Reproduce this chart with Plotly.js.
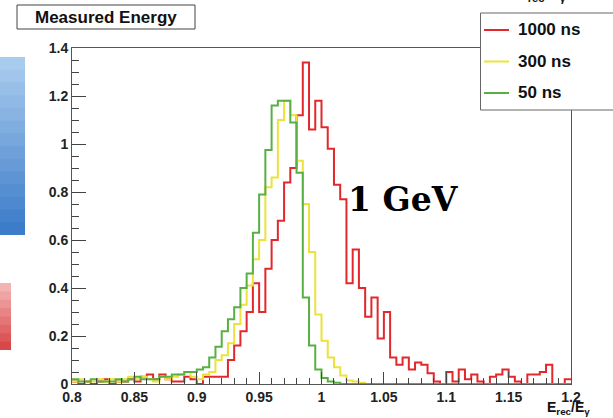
<!DOCTYPE html>
<html>
<head>
<meta charset="utf-8">
<script src="https://cdn.plot.ly/plotly-3.0.1.min.js"></script>
<style>html,body{margin:0;padding:0;background:#fff;overflow:hidden;}#chart{width:613px;height:418px;}</style>
</head>
<body>
<div id="chart"></div>
<script>
// ---- data (bin contents, 80 bins from 0.8 to 1.2, width 0.005) ----
const binStart = 0.8;
const binWidth = 0.005;
const seriesNames = ["1000 ns", "300 ns", "50 ns"];
const seriesColors = ['#e3282c', '#ece23a', '#58b043'];
const red1000 = [
  0.01,0.00,0.01,0.00,0.01,0.02,0.00,0.01,0.01,0.02,
  0.01,0.03,0.04,0.02,0.04,0.02,0.01,0.01,0.03,0.02,
  0.00,0.03,0.03,0.03,0.03,0.10,0.16,0.22,0.30,0.42,
  0.30,0.48,0.60,0.68,0.84,0.90,1.12,1.34,1.06,1.18,
  1.07,0.98,0.83,0.77,0.42,0.56,0.40,0.28,0.36,0.19,
  0.30,0.11,0.08,0.11,0.06,0.09,0.08,0.045,0.01,0.00,
  0.05,0.01,0.06,0.02,0.04,0.01,0.00,0.03,0.04,0.06,
  0.03,0.01,0.00,0.04,0.04,0.05,0.08,0.00,0.00,0.02
];
const yellow300 = [
  0.01,0.02,0.01,0.01,0.02,0.01,0.02,0.01,0.02,0.03,
  0.02,0.03,0.02,0.01,0.03,0.02,0.03,0.04,0.05,0.03,
  0.02,0.04,0.05,0.10,0.12,0.17,0.25,0.33,0.41,0.52,
  0.60,0.82,0.86,1.10,1.18,1.12,0.93,0.75,0.55,0.29,
  0.18,0.11,0.07,0.035,0.015,0.01,0.005,0,0,0,
  0,0,0,0,0,0,0,0,0,0,
  0,0,0,0,0,0,0,0,0,0,
  0,0,0,0,0,0,0,0,0,0
];
const green50 = [
  0.02,0.01,0.01,0.02,0.01,0.01,0.01,0.02,0.01,0.02,
  0.03,0.02,0.02,0.02,0.03,0.03,0.04,0.04,0.05,0.05,
  0.06,0.07,0.11,0.155,0.22,0.27,0.32,0.40,0.46,0.63,
  0.79,0.975,1.16,1.18,1.18,1.09,0.88,0.36,0.16,0.06,
  0.025,0.01,0.005,0,0,0,0,0,0,0,
  0,0,0,0,0,0,0,0,0,0,
  0,0,0,0,0,0,0,0,0,0,
  0,0,0,0,0,0,0,0,0,0
];
const xTickVals = [0.8,0.85,0.9,0.95,1,1.05,1.1,1.15,1.2];
const xTickText = ["0.8","0.85","0.9","0.95","1","1.05","1.1","1.15","1.2"];
const yTickVals = [0,0.2,0.4,0.6,0.8,1,1.2,1.4];
const yTickText = ["0","0.2","0.4","0.6","0.8","1","1.2","1.4"];

// ---- layout geometry ----
const W = 613, H = 418;
const M = {l:72, r:42, t:48, b:34};
const pw = W - M.l - M.r, ph = H - M.t - M.b;
const px = x => (x - M.l) / pw;       // pixel -> paper x
const py = y => (H - M.b - y) / ph;   // pixel -> paper y

function stepTrace(vals, name, color) {
  const xs = vals.map((_, i) => binStart + i * binWidth);
  const ys = vals.slice();
  xs.push(binStart + vals.length * binWidth);
  ys.push(vals[vals.length - 1]);
  return {
    x: xs, y: ys, type: 'scatter', mode: 'lines', name: name,
    line: {shape: 'hv', color: color, width: 2},
    hoverinfo: 'skip', showlegend: false
  };
}

const traces = [
  stepTrace(red1000, seriesNames[0], seriesColors[0]),
  stepTrace(yellow300, seriesNames[1], seriesColors[1]),
  stepTrace(green50, seriesNames[2], seriesColors[2])
];

const shapes = [];
// left-side slide decorations (gradient boxes)
function gradRect(x0, x1, y0, y1, c0, c1, n) {
  const parse = c => [1,3,5].map(k => parseInt(c.substr(k,2),16));
  const a = parse(c0), b = parse(c1);
  for (let i = 0; i < n; i++) {
    const t = i / (n - 1);
    const c = a.map((v, k) => Math.round(v + (b[k] - v) * t));
    const ya = y0 + (y1 - y0) * i / n;
    const yb = Math.min(y1, y0 + (y1 - y0) * (i + 1) / n + 1.5);
    shapes.push({type:'rect', xref:'paper', yref:'paper', x0:px(x0), x1:px(x1), y0:py(ya), y1:py(yb),
      fillcolor:'rgb(' + c.join(',') + ')', line:{width:0}, layer:'below'});
  }
}
gradRect(-4, 25, 57, 235, '#a9cbee', '#3d7cc9', 14);
gradRect(-4, 11, 283, 350, '#f3b3b3', '#d84848', 8);

// title box
shapes.push({type:'rect', xref:'paper', yref:'paper', x0:px(17), x1:px(195), y0:py(5), y1:py(29),
  fillcolor:'#ffffff', line:{color:'#444', width:1}});
// legend box: white fill + edges (right edge lies beyond the page)
shapes.push({type:'rect', xref:'paper', yref:'paper', x0:px(480), x1:px(613), y0:py(13), y1:py(110),
  fillcolor:'#ffffff', line:{width:0}, layer:'above'});
shapes.push({type:'path', xref:'paper', yref:'paper', layer:'above',
  path: 'M' + px(613) + ',' + py(13) + ' L' + px(480.5) + ',' + py(13) + ' L' + px(480.5) + ',' + py(110) + ' L' + px(613) + ',' + py(110),
  line:{color:'#666', width:1}});

const font = 'Liberation Sans, Arial, sans-serif';
const annotations = [
  {xref:'paper', yref:'paper', x:px(106), y:py(17), xanchor:'center', yanchor:'middle',
   text:'Measured Energy', showarrow:false, font:{family:font, size:17, color:'#111', weight:'bold'}},
  {xref:'paper', yref:'paper', x:px(346), y:py(199), xanchor:'left', yanchor:'middle',
   text:'1 GeV', showarrow:false, font:{family:'DejaVu Serif, serif', size:33, color:'#000', weight:'bold'}},
  {xref:'paper', yref:'paper', x:px(592), y:py(408), xanchor:'right', yanchor:'middle',
   text:'E<sub>rec</sub>/E<sub>γ</sub>', showarrow:false, font:{family:font, size:14, color:'#111', weight:'bold'}},
  {xref:'paper', yref:'paper', x:px(515), y:py(6), xanchor:'left', yanchor:'bottom',
   text:'E<sub>rec</sub>/E<sub>γ</sub>', showarrow:false, font:{family:font, size:16, color:'#111', weight:'bold'}}
];
// legend entries (sample line + label), one row per series
seriesNames.forEach((nm, i) => {
  const yRow = 30 + i * 31.5;
  shapes.push({type:'line', xref:'paper', yref:'paper', layer:'above',
    x0:px(484), x1:px(509), y0:py(yRow), y1:py(yRow), line:{color:seriesColors[i], width:2}});
  annotations.push({xref:'paper', yref:'paper', x:px(516), y:py(yRow), xanchor:'left', yanchor:'middle',
    text:nm, showarrow:false, font:{family:font, size:17, color:'#111', weight:'bold'}});
});

const layout = {
  width: W, height: H,
  margin: M,
  paper_bgcolor: '#ffffff', plot_bgcolor: '#ffffff',
  showlegend: false,
  xaxis: {
    range: [0.8, 1.2], showgrid: false, zeroline: false,
    showline: true, mirror: true, linecolor: '#555', linewidth: 1,
    ticks: 'inside', ticklen: 12, tickwidth: 1, tickcolor: '#444',
    tickvals: xTickVals, ticktext: xTickText,
    tickfont: {family: font, size: 14, color: '#222', weight: 'bold'},
    minor: {ticks: 'inside', dtick: 0.01, ticklen: 6, tickcolor: '#444', showgrid: false}
  },
  yaxis: {
    range: [0, 1.4], showgrid: false, zeroline: false,
    showline: true, mirror: true, linecolor: '#555', linewidth: 1,
    ticks: 'inside', ticklen: 14, tickwidth: 1, tickcolor: '#444',
    tickvals: yTickVals, ticktext: yTickText,
    tickfont: {family: font, size: 14, color: '#222', weight: 'bold'},
    minor: {ticks: 'inside', dtick: 0.05, ticklen: 7, tickcolor: '#444', showgrid: false}
  },
  shapes: shapes,
  annotations: annotations
};

Plotly.newPlot('chart', traces, layout, {displayModeBar: false, staticPlot: true});
</script>
</body>
</html>
